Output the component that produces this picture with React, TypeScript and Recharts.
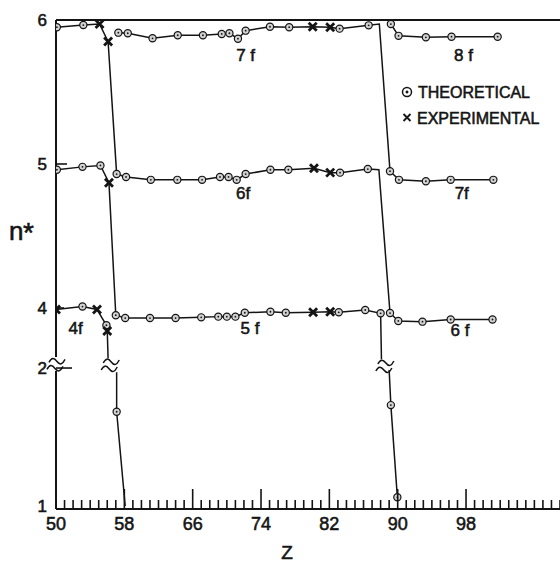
import { LineChart, Line, XAxis, YAxis, ReferenceLine, ReferenceDot } from "recharts";

type Mark = "o" | "x" | "";
type Pt = [number, number | null, Mark];

// [Z, n*, mark]  o = theoretical, x = experimental, "" = bend only; null n* = break in the line
const SERIES_4F: Pt[] = [
  [50, 3.99, "x"], [53.1, 4.01, "o"], [54.8, 3.99, "x"], [55.9, 3.88, "o"], [56.0, 3.84, "x"],
  [56.1, 3.65, ""], [56.6, null, ""], [57.1, 1.97, ""], [57.1, 1.69, "o"], [58.1, 1.02, ""],
];
const SERIES_5F: Pt[] = [
  [50.1, 4.96, "o"], [53.1, 4.98, "o"], [55.2, 4.99, "o"], [56.2, 4.87, "x"],
  [57.0, 3.95, "o"], [58.1, 3.93, "o"], [61.0, 3.93, "o"], [64.0, 3.93, "o"], [67.0, 3.935, "o"],
  [69.0, 3.94, "o"], [70.0, 3.94, "o"], [71.0, 3.94, "o"], [72.1, 3.967, "o"], [75.1, 3.974, "o"],
  [76.9, 3.967, "o"], [80.1, 3.97, "x"], [82.1, 3.974, "x"], [83.1, 3.97, "o"], [86.2, 3.986, "o"],
  [88.0, 3.963, "o"], [88.1, 3.644, ""], [88.5, null, ""], [89.0, 1.986, ""], [89.2, 1.737, "o"],
  [89.96, 1.083, "o"],
];
const SERIES_6F: Pt[] = [
  [50.1, 5.95, "o"], [53.2, 5.965, "o"], [55.1, 5.972, "x"], [56.1, 5.85, "x"],
  [57.1, 4.93, "o"], [58.2, 4.91, "o"], [61.1, 4.89, "o"], [64.2, 4.89, "o"], [67.1, 4.89, "o"],
  [69.2, 4.91, "o"], [70.2, 4.91, "o"], [71.15, 4.89, "o"], [72.2, 4.93, "o"], [75.1, 4.96, "o"],
  [77.2, 4.96, "o"], [80.2, 4.97, "x"], [82.1, 4.94, "x"], [83.25, 4.94, "o"], [86.5, 4.965, "o"],
  [87.8, 4.96, ""], [89.1, 3.965, "o"], [90.07, 3.91, "o"], [92.9, 3.905, "o"], [96.2, 3.92, "o"],
  [101.1, 3.92, "o"],
];
const SERIES_7F: Pt[] = [
  [57.3, 5.912, "o"], [58.4, 5.908, "o"], [61.3, 5.873, "o"], [64.25, 5.894, "o"], [67.2, 5.894, "o"],
  [69.4, 5.903, "o"], [70.3, 5.908, "o"], [71.3, 5.87, "o"], [72.2, 5.926, "o"], [75.05, 5.953, "o"],
  [77.3, 5.95, "o"], [80.05, 5.953, "x"], [82.1, 5.95, "x"], [83.2, 5.94, "o"], [86.6, 5.963, "o"],
  [87.85, 5.972, ""], [89.1, 4.95, "o"], [90.15, 4.89, "o"], [93.3, 4.88, "o"], [96.2, 4.89, "o"],
  [101.2, 4.89, "o"],
];
const SERIES_8F: Pt[] = [
  [89.2, 5.972, "o"], [90.1, 5.89, "o"], [93.3, 5.88, "o"], [96.3, 5.884, "o"], [101.7, 5.884, "o"],
];
const SERIES = [SERIES_4F, SERIES_5F, SERIES_6F, SERIES_7F, SERIES_8F];

// orbital labels next to the curves
const CURVE_LABELS: { text: string; z: number; n: number }[] = [
  { text: "7 f", z: 72.2, n: 5.76 },
  { text: "8 f", z: 97.7, n: 5.76 },
  { text: "6f", z: 71.9, n: 4.8 },
  { text: "7f", z: 97.5, n: 4.8 },
  { text: "4f", z: 52.3, n: 3.86 },
  { text: "5 f", z: 72.7, n: 3.86 },
  { text: "6 f", z: 97.3, n: 3.85 },
];

const Z_LABELS = [50, 58, 66, 74, 82, 90, 98];
const Z_MAJOR = [58, 66, 74, 82, 90, 98];
const Z_TICKS = Array.from({ length: 60 }, (_, i) => 50 + i);
const N_LABELS = [1, 2, 4, 5, 6];
const N_TICK_LEN = [0, 16, 8, 11, 0];

// broken n* axis: between 2 and 4 the scale is cut
const N2_AT = 3.583;
const LOW_SCALE = 0.979;
const plotN = (n: number) => (n >= 3 ? n : N2_AT - (2 - n) * LOW_SCALE);
const N_TICK_POS = N_LABELS.map(plotN);

// where the "≈" break signs sit (plot units)
const BREAKS = [
  { z: 50, y: 3.608 },
  { z: 56.35, y: 3.604 },
  { z: 88.5, y: 3.597 },
];

const INK = "#141414";
const FONT = '"Liberation Sans", Arial, sans-serif';
// hand lettering is heavier than the regular face
const TEXT_STYLE = { fill: INK, stroke: INK, strokeWidth: 0.55, fontFamily: FONT };

function rows(pts: Pt[]) {
  return pts.map(([z, n, mark]) => ({ z, y: n === null ? null : plotN(n), mark }));
}

function Marker(props: any) {
  const { cx, cy, payload, index } = props;
  const key = `m-${index}`;
  if (cx == null || cy == null || !payload || !payload.mark || payload.y == null) return <g key={key} />;
  if (payload.mark === "x") {
    return (
      <path
        key={key}
        d={`M${cx - 4},${cy - 4}L${cx + 4},${cy + 4}M${cx + 4},${cy - 4}L${cx - 4},${cy + 4}`}
        stroke={INK}
        strokeWidth={2.8}
      />
    );
  }
  return (
    <g key={key}>
      <circle cx={cx} cy={cy} r={3.6} fill="#d2d2d2" stroke={INK} strokeWidth={1.2} />
      <circle cx={cx} cy={cy} r={0.9} fill={INK} />
    </g>
  );
}

function ZTick(props: any) {
  const { x, y, payload } = props;
  const z = payload.value;
  const h = z === 50 ? 0 : Z_MAJOR.includes(z) ? 20 : 9;
  return (
    <g>
      {h > 0 && <line x1={x} x2={x} y1={y} y2={y - h} stroke={INK} strokeWidth={1.6} />}
      {Z_LABELS.includes(z) && (
        <text x={x} y={y + 21} textAnchor="middle" fontSize={18} {...TEXT_STYLE}>
          {z}
        </text>
      )}
    </g>
  );
}

function NTick(props: any) {
  const { x, y, payload } = props;
  const i = N_TICK_POS.findIndex((p) => Math.abs(p - payload.value) < 1e-6);
  if (i < 0) return <g />;
  const len = N_TICK_LEN[i];
  return (
    <g>
      <text x={x - 9} y={i === 0 ? y + 3 : y + 6} textAnchor="end" fontSize={17} {...TEXT_STYLE}>
        {N_LABELS[i]}
      </text>
      {len > 0 && <line x1={x} x2={x + len} y1={y} y2={y} stroke={INK} strokeWidth={1.6} />}
    </g>
  );
}

function BreakSign(props: any) {
  const { cx, cy } = props;
  return (
    <g fill="none" stroke={INK} strokeWidth={1.5}>
      <path d={`M${cx - 7},${cy - 2} c 2.5,-5 5,-5 8,-1 s 5.5,3 8,-2`} />
      <path d={`M${cx - 9},${cy + 5} c 2.5,-5 5,-5 8,-1 s 5.5,3 8,-2`} />
    </g>
  );
}

export default function App() {
  return (
    <div style={{ position: "absolute", left: 0, top: 0, width: 560, height: 563, background: "#fff" }}>
      <LineChart width={560} height={563} margin={{ top: 20, right: 0, bottom: 0, left: 0 }}>
        <XAxis
          dataKey="z"
          type="number"
          domain={[50, 109]}
          allowDataOverflow
          ticks={Z_TICKS}
          interval={0}
          height={54}
          tickSize={0}
          tickMargin={0}
          tickLine={false}
          tick={<ZTick />}
          axisLine={{ stroke: INK, strokeWidth: 2 }}
        />
        <YAxis
          type="number"
          domain={[plotN(1), 6]}
          allowDataOverflow
          ticks={N_TICK_POS}
          interval={0}
          width={56}
          tickSize={0}
          tickMargin={0}
          tickLine={false}
          axisLine={false}
          tick={<NTick />}
        />
        <ReferenceLine y={6} stroke={INK} strokeWidth={2} />
        <ReferenceLine segment={[{ x: 50, y: 6 }, { x: 50, y: 3.66 }]} stroke={INK} strokeWidth={2} />
        <ReferenceLine segment={[{ x: 50, y: 3.563 }, { x: 50, y: plotN(1) }]} stroke={INK} strokeWidth={2} />
        {SERIES.map((s, i) => (
          <Line
            key={i}
            data={rows(s)}
            dataKey="y"
            type="linear"
            stroke={INK}
            strokeWidth={1.5}
            dot={(p: any) => <Marker {...p} />}
            activeDot={false}
            connectNulls={false}
            isAnimationActive={false}
          />
        ))}
        {BREAKS.map((b, i) => (
          <ReferenceDot key={`b${i}`} x={b.z} y={b.y} r={0} shape={(p: any) => <BreakSign {...p} />} />
        ))}
        {CURVE_LABELS.map((l) => (
          <ReferenceDot
            key={`${l.text}-${l.z}`}
            x={l.z}
            y={plotN(l.n)}
            r={0}
            shape={(p: any) => (
              <text x={p.cx} y={p.cy + 6} textAnchor="middle" fontSize={17} {...TEXT_STYLE}>
                {l.text}
              </text>
            )}
          />
        ))}
      </LineChart>
      <svg
        width={560}
        height={563}
        style={{ position: "absolute", left: 0, top: 0, pointerEvents: "none" }}
        fontFamily={FONT}
        fill={INK}
        stroke={INK}
        strokeWidth={0.55}
      >
        <text x={9} y={240} fontSize={26}>n</text>
        <text x={23} y={242} fontSize={28}>*</text>
        <text x={287} y={559} fontSize={19} textAnchor="middle">Z</text>
        <circle cx={407} cy={92} r={4.5} fill="none" stroke={INK} strokeWidth={1.5} />
        <circle cx={407} cy={92} r={1.2} />
        <text x={418} y={98} fontSize={16}>THEORETICAL</text>
        <path d="M403.5,114 L410.5,121 M410.5,114 L403.5,121" stroke={INK} strokeWidth={1.8} />
        <text x={417} y={124} fontSize={16}>EXPERIMENTAL</text>
      </svg>
    </div>
  );
}
